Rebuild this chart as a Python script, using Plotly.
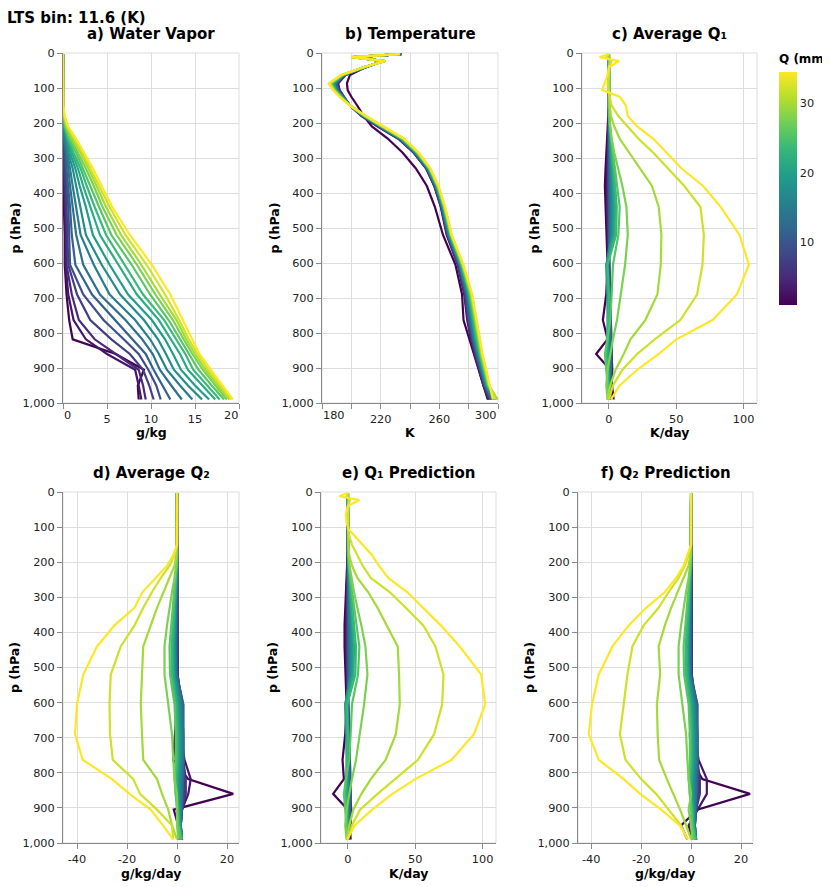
import plotly.graph_objects as go
from plotly.colors import sample_colorscale

# precipitable water bins (mm), one line per bin
Q_MM = [1.0, 3.1, 5.1, 7.2, 9.2, 11.3, 13.3, 15.4, 17.4, 19.5, 21.5, 23.6, 25.6, 27.7, 29.8, 32.0, 34.5]

# pressure levels (hPa)
P_HPA = [3, 12, 23, 40, 63, 87, 106, 125, 150, 180, 210, 245, 285, 330, 380, 440, 520, 605, 690, 763, 818, 860, 905, 950, 990]

# each row is one pressure level, each column one Q bin
VAPOR = [
    [0, 0, 0, 0, 0, 0, 0, 0, 0, 0, 0, 0, 0, 0, 0, 0, 0],
    [0, 0, 0, 0, 0, 0, 0, 0, 0, 0, 0, 0, 0, 0, 0, 0, 0],
    [0, 0, 0, 0, 0, 0, 0, 0, 0, 0, 0, 0, 0, 0, 0, 0, 0],
    [0, 0, 0, 0, 0, 0, 0, 0, 0, 0, 0, 0, 0, 0, 0, 0, 0],
    [0, 0, 0, 0, 0, 0, 0, 0, 0, 0, 0, 0, 0, 0, 0, 0, 0],
    [0, 0, 0, 0, 0, 0, 0, 0, 0, 0, 0, 0, 0, 0, 0, 0, 0],
    [0, 0, 0, 0, 0, 0, 0, 0, 0, 0, 0, 0, 0, 0, 0, 0, 0],
    [0, 0, 0, 0, 0, 0, 0, 0, 0, 0, 0, 0, 0, 0, 0, 0, 0],
    [0, 0, 0, 0, 0, 0, 0, 0, 0, 0, 0, 0, 0, 0, 0, 0.03, 0.05],
    [0, 0, 0, 0, 0, 0, 0, 0, 0, 0, 0, 0.05, 0.05, 0.1, 0.1, 0.15, 0.2],
    [0, 0, 0, 0, 0, 0, 0.05, 0.05, 0.1, 0.1, 0.15, 0.2, 0.25, 0.3, 0.4, 0.5, 0.6],
    [0, 0, 0, 0.05, 0.1, 0.1, 0.15, 0.2, 0.3, 0.4, 0.5, 0.6, 0.7, 0.9, 1.1, 1.3, 1.5],
    [0, 0.05, 0.1, 0.1, 0.2, 0.3, 0.4, 0.5, 0.6, 0.8, 1.0, 1.2, 1.5, 1.7, 2.0, 2.2, 2.4],
    [0.05, 0.1, 0.1, 0.2, 0.3, 0.4, 0.6, 0.8, 1.1, 1.4, 1.7, 2.0, 2.3, 2.6, 2.9, 3.1, 3.4],
    [0.1, 0.1, 0.2, 0.3, 0.4, 0.6, 0.8, 1.1, 1.5, 1.9, 2.3, 2.7, 3.1, 3.5, 3.8, 4.1, 4.4],
    [0.1, 0.2, 0.3, 0.4, 0.6, 0.8, 1.1, 1.5, 2.0, 2.6, 3.1, 3.6, 4.1, 4.5, 4.9, 5.3, 5.6],
    [0.2, 0.3, 0.4, 0.5, 0.7, 1.0, 1.5, 2.0, 2.6, 3.4, 4.2, 4.9, 5.5, 6.1, 6.6, 7.1, 7.6],
    [0.2, 0.3, 0.4, 0.6, 0.8, 1.4, 2.3, 3.5, 4.4, 5.3, 6.3, 7.0, 7.8, 8.4, 8.9, 9.5, 10.1],
    [0.4, 0.6, 1.0, 1.6, 2.3, 3.3, 4.2, 5.3, 6.5, 7.4, 8.4, 9.1, 9.9, 10.5, 11.0, 11.6, 12.2],
    [0.7, 1.2, 1.8, 3.1, 4.6, 5.9, 7.1, 8.2, 9.2, 10.1, 10.9, 11.5, 12.0, 12.5, 12.9, 13.2, 13.6],
    [1.1, 2.6, 3.6, 5.5, 6.9, 7.9, 9.0, 9.9, 10.8, 11.6, 12.3, 12.9, 13.3, 13.7, 14.0, 14.3, 14.6],
    [6.0, 5.0, 6.0, 7.6, 8.6, 9.4, 10.2, 10.9, 11.7, 12.5, 13.3, 13.9, 14.3, 14.7, 15.0, 15.3, 15.5],
    [9.2, 8.2, 8.6, 9.1, 9.7, 10.3, 11.0, 11.8, 12.6, 13.4, 14.2, 14.8, 15.4, 15.9, 16.2, 16.5, 16.8],
    [8.5, 8.6, 9.1, 9.8, 10.6, 11.3, 12.3, 13.3, 14.2, 15.0, 15.8, 16.4, 16.9, 17.3, 17.6, 17.9, 18.1],
    [8.6, 8.9, 9.4, 10.3, 11.1, 12.2, 13.5, 14.7, 15.8, 16.6, 17.3, 17.8, 18.3, 18.6, 18.9, 19.1, 19.3],
]

TEMP = [
    [234, 234, 234, 234, 234, 234, 234, 234, 234, 233, 233, 233, 233, 233, 233, 233, 233],
    [203, 202, 202, 202, 202, 202, 201, 201, 201, 201, 201, 201, 200, 200, 200, 200, 200],
    [221, 222, 222, 222, 222, 222, 222, 222, 222, 223, 223, 223, 223, 223, 223, 223, 223],
    [210, 210, 210, 210, 210, 210, 210, 210, 210, 209, 209, 209, 209, 209, 209, 209, 209],
    [199, 196, 195.8, 195.6, 195.4, 195.2, 195, 194.8, 194.6, 194.4, 194.2, 194, 193.8, 193.6, 193.4, 193.2, 193],
    [197, 191, 190.6, 190.1, 189.7, 189.3, 188.8, 188.4, 188, 187.5, 187.1, 186.7, 186.2, 185.8, 185.4, 184.9, 184.5],
    [197.5, 192, 191.7, 191.4, 191.1, 190.8, 190.5, 190.2, 189.9, 189.6, 189.3, 189, 188.7, 188.4, 188.1, 187.8, 187.5],
    [200, 195, 194.8, 194.6, 194.4, 194.2, 194, 193.8, 193.6, 193.4, 193.2, 193, 192.8, 192.6, 192.4, 192.2, 192],
    [204, 199, 199, 199, 199, 199, 199, 199, 199, 199, 199, 199, 199, 199, 199, 199, 199],
    [208.5, 207, 207.2, 207.4, 207.6, 207.8, 208, 208.2, 208.4, 208.6, 208.8, 209, 209.2, 209.4, 209.6, 209.8, 210],
    [214, 218, 218.3, 218.5, 218.8, 219.1, 219.3, 219.6, 219.9, 220.1, 220.4, 220.7, 220.9, 221.2, 221.5, 221.7, 222],
    [225, 232, 232.3, 232.5, 232.8, 233.1, 233.3, 233.6, 233.9, 234.1, 234.4, 234.7, 234.9, 235.2, 235.5, 235.7, 236],
    [235, 242.5, 242.7, 243, 243.2, 243.4, 243.7, 243.9, 244.1, 244.4, 244.6, 244.8, 245.1, 245.3, 245.5, 245.8, 246],
    [244, 251, 251.2, 251.4, 251.6, 251.8, 252, 252.2, 252.4, 252.6, 252.8, 253, 253.2, 253.4, 253.6, 253.8, 254],
    [251.5, 256.5, 256.7, 256.9, 257.1, 257.3, 257.5, 257.7, 257.9, 258.1, 258.3, 258.5, 258.7, 258.9, 259.1, 259.3, 259.5],
    [257, 261, 261.2, 261.4, 261.6, 261.8, 262, 262.2, 262.4, 262.6, 262.8, 263, 263.2, 263.4, 263.6, 263.8, 264],
    [262.5, 265, 265.3, 265.5, 265.8, 266, 266.3, 266.5, 266.8, 267, 267.3, 267.5, 267.8, 268, 268.2, 268.3, 268.5],
    [271, 272.5, 272.8, 273, 273.3, 273.6, 273.8, 274.1, 274.4, 274.6, 274.9, 275.2, 275.4, 275.7, 276, 276.2, 276.5],
    [275.5, 277, 277.4, 277.7, 278.1, 278.5, 278.8, 279.2, 279.6, 279.9, 280.3, 280.7, 281, 281.4, 281.8, 282.1, 282.5],
    [276.5, 279, 279.4, 279.9, 280.3, 280.7, 281.2, 281.6, 282, 282.5, 282.9, 283.3, 283.8, 284.2, 284.6, 285.1, 285.5],
    [280.5, 281.5, 281.9, 282.3, 282.7, 283.1, 283.5, 283.9, 284.3, 284.7, 285.1, 285.5, 285.9, 286.3, 286.7, 287.1, 287.5],
    [283.5, 284, 284.4, 284.7, 285.1, 285.5, 285.8, 286.2, 286.6, 286.9, 287.3, 287.7, 288, 288.4, 288.8, 289.1, 289.5],
    [286.5, 287, 287.3, 287.7, 288, 288.3, 288.7, 289, 289.3, 289.7, 290, 290.3, 290.7, 291, 291.3, 291.7, 292],
    [290, 290, 290.3, 290.6, 290.9, 291.2, 291.5, 291.8, 292.1, 292.4, 292.7, 293, 293.3, 293.6, 293.9, 294.2, 294.5],
    [293, 293.5, 294, 294.5, 295, 295.5, 296, 296.5, 297, 297.5, 298, 298.5, 299, 299.5, 299.5, 298, 296.5],
]

Q1_AVG = [
    [0, 0, 0, 0, 0, 0, 0, 0, 0, 0, 0, 0, 0, 0, 0, 0, 0],
    [0, 0, 0, 0, 0, 0, 0, 0, 0, 0, 0, 0, 0, 0, -1, -2, -7],
    [0.5, 0.5, 0.5, 0.5, 0.5, 0.5, 0.5, 0.5, 0.5, 0.5, 0.5, 0.5, 0.5, 0.5, 1, 2, 7.6],
    [0, 0, 0, 0, 0, 0, 0, 0, 0, 0, 0, 0, 0, 0, 0, 0, 0],
    [0, 0, 0, 0, 0, 0, 0, 0, 0, 0, 0, 0, 0, 0, 0, 0, -1],
    [0, 0, 0, 0, 0, 0, 0, 0, 0, 0, 0, 0, 0, 0, 0, -1, -3],
    [0, 0, 0, 0, 0, 0, 0, 0, 0, 0, 0, 0, 0, 0, 0, -0.5, -5],
    [0, 0, 0, 0, 0, 0, 0, 0, 0, 0, 0, 0, 0, 0, 0, 0.5, 8],
    [0, 0, 0, 0, 0, 0, 0, 0, 0, 0, 0, 0, 0, 0, 0.5, 2, 12.6],
    [-0.5, -0.3, -0.2, 0, 0, 0, 0, 0, 0, 0, 0, 0, 0.3, 0.5, 1.5, 7, 14],
    [-1, -0.6, -0.4, -0.2, 0, 0, 0.2, 0.3, 0.4, 0.5, 0.6, 0.7, 0.8, 1, 4, 14, 21],
    [-1.5, -1, -0.6, -0.4, 0, 0.2, 0.4, 0.6, 0.8, 1, 1.2, 1.4, 1.6, 2, 8, 22, 33],
    [-2, -1.3, -0.8, -0.5, 0, 0.3, 0.6, 0.9, 1.3, 1.7, 2.1, 2.5, 3, 4, 15, 33, 43],
    [-2.5, -1.6, -1, -0.5, 0, 0.4, 0.8, 1.3, 1.8, 2.4, 3, 3.7, 4.5, 7, 23, 44, 54],
    [-3, -1.8, -1, -0.5, 0, 0.5, 1, 1.6, 2.3, 3, 3.9, 4.9, 6, 10, 32, 56, 70],
    [-2.5, -1.5, -1, -0.5, 0, 0.5, 1.1, 1.8, 2.6, 3.5, 4.6, 5.8, 8, 13, 37, 68, 83],
    [-1.5, -1, -0.5, 0, 0, 0.5, 1, 1.6, 2.3, 3.1, 4.1, 5.3, 7, 14, 39, 70.5, 97],
    [-1, -0.5, 0, 0.5, 0, -0.5, -1, -1.5, -1.8, -2, -1.5, -1, 3, 12, 38.5, 69.5, 104],
    [-2, 0, 0.5, 1, 1, 0.5, 0, -0.5, -1, -1, -0.5, 0, 2, 9, 36, 65.5, 95],
    [-4.5, 0.5, 1, 1.5, 1.5, 1, 0.5, 0, -0.5, -1, -1, -0.5, 1, 6, 27, 53, 77],
    [-1, 1, 1.5, 2, 2, 1.5, 1, 0.5, 0, -0.5, -1, -1.5, -1, 3, 16, 34, 50],
    [-9.5, 2, 2, 2, 2, 1.5, 1, 0.5, 0, -0.5, -1, -2, -3, 1, 11, 21, 37],
    [1, 2.5, 2, 1.5, 1.5, 1, 1, 0.5, 0, 0, -0.5, -1, -2, -1, 5, 10, 21],
    [2.5, 2, 1.5, 1, 1, 1, 0.5, 0.5, 0, 0, 0, -0.5, -1, -2, 1, 3, 8],
    [3.5, 1, 0.5, 0, 0, 0, 0, 0, 0, 0, 0, 0, 0, -1, -1.5, 0, 1.5],
]

Q2_AVG = [
    [0, 0, 0, 0, 0, 0, 0, 0, 0, 0, 0, 0, 0, 0, 0, 0, 0],
    [0, 0, 0, 0, 0, 0, 0, 0, 0, 0, 0, 0, 0, 0, 0, 0, 0],
    [0, 0, 0, 0, 0, 0, 0, 0, 0, 0, 0, 0, 0, 0, 0, 0, 0],
    [0, 0, 0, 0, 0, 0, 0, 0, 0, 0, 0, 0, 0, 0, 0, 0, 0],
    [0, 0, 0, 0, 0, 0, 0, 0, 0, 0, 0, 0, 0, 0, 0, 0, 0],
    [0, 0, 0, 0, 0, 0, 0, 0, 0, 0, 0, 0, 0, 0, 0, 0, 0],
    [0, 0, 0, 0, 0, 0, 0, 0, 0, 0, 0, 0, 0, 0, 0, 0, 0],
    [0, 0, 0, 0, 0, 0, 0, 0, 0, 0, 0, 0, 0, 0, 0, 0, 0],
    [0, 0, 0, 0, 0, 0, 0, 0, 0, 0, 0, 0, 0, 0, 0, 0, 0],
    [0, 0, 0, 0, 0, 0, 0, 0, 0, 0, 0, 0, 0, 0, -0.3, -1, -1.5],
    [0, 0, 0, 0, 0, 0, 0, 0, 0, 0, 0, 0, -0.2, -0.4, -1, -3, -4],
    [0, 0, 0, 0, 0, 0, 0, -0.1, -0.2, -0.3, -0.4, -0.5, -0.7, -1, -3, -6.5, -8.5],
    [0, 0, 0, 0, 0, -0.1, -0.2, -0.3, -0.4, -0.5, -0.7, -0.9, -1.2, -2, -5.5, -10, -13.8],
    [0, 0, 0, 0, -0.1, -0.2, -0.3, -0.4, -0.6, -0.8, -1, -1.3, -1.7, -3, -8, -13.5, -17],
    [0, 0, 0, -0.1, -0.2, -0.3, -0.4, -0.6, -0.8, -1, -1.3, -1.7, -2.3, -4, -10.5, -17, -25],
    [0, 0, 0, -0.1, -0.2, -0.4, -0.5, -0.7, -1, -1.3, -1.7, -2.2, -3, -5, -13.5, -22.5, -32],
    [0.2, 0.3, 0.3, 0.2, 0, -0.2, -0.4, -0.6, -0.9, -1.2, -1.6, -2.1, -2.8, -5, -14, -26.5, -37.5],
    [0, 1, 1.5, 2, 2.5, 2.5, 2, 1.5, 1, 0.5, 0, -0.5, -1, -3.5, -14.5, -27, -40],
    [-0.8, 1.5, 2, 2.5, 2.5, 2.5, 2.5, 2, 1.5, 1, 0.5, 0, -0.5, -2, -14, -26.8, -40.8],
    [-1.5, 3, 2.5, 2.5, 2.5, 2.5, 2.5, 2, 1.5, 1, 0.5, 0, -0.5, -1.5, -13.5, -25.7, -37.7],
    [4.5, 5.5, 3.5, 3, 2.5, 2.5, 2, 1.5, 1, 0.5, 0, -0.5, -1, -1, -8, -17.5, -26],
    [22.5, 4.5, 3.5, 3, 2.5, 2, 2, 1.5, 1, 0.5, 0, -0.5, -0.5, 0, -6, -14.8, -19],
    [-1.3, 2, 2, 2, 2, 2, 1.5, 1.5, 1, 1, 0.5, 0.5, 0, 0, -3.5, -8, -10.5],
    [0.5, 1, 1.5, 1.5, 1.5, 1.5, 1.5, 1.5, 1, 1, 1, 0.5, 0.5, 0, -2, -2, -5.6],
    [0.5, 1, 1.5, 2, 2, 2, 2, 2, 2, 2, 2, 1.5, 1.5, 0.5, 0, -1.5, -1.5],
]

Q1_PRED = [
    [0, 0, 0, 0, 0, 0, 0, 0, 0, 0, 0, 0, 0, 0, 0, 0, 0],
    [0, 0, 0, 0, 0, 0, 0, 0, 0, 0, 0, 0, 0, 0, -0.5, -1, -6.4],
    [0.3, 0.3, 0.3, 0.3, 0.3, 0.3, 0.3, 0.3, 0.3, 0.3, 0.3, 0.3, 0.3, 0.3, 1, 1.5, 8.4],
    [0, 0, 0, 0, 0, 0, 0, 0, 0, 0, 0, 0, 0, 0, 0, 0, 0],
    [0, 0, 0, 0, 0, 0, 0, 0, 0, 0, 0, 0, 0, 0, 0, 0, -1.5],
    [0, 0, 0, 0, 0, 0, 0, 0, 0, 0, 0, 0, 0, 0, 0, 0, -1],
    [0, 0, 0, 0, 0, 0, 0, 0, 0, 0, 0, 0, 0, 0, 0, 0, 0.5],
    [0, 0, 0, 0, 0, 0, 0, 0, 0, 0, 0, 0, 0, 0, 0, 1, 5],
    [0, 0, 0, 0, 0, 0, 0, 0, 0, 0, 0, 0, 0, 0, 0.3, 3, 11],
    [-0.3, -0.2, -0.1, 0, 0, 0, 0, 0, 0, 0, 0, 0.1, 0.3, 0.5, 1, 7, 18],
    [-0.6, -0.4, -0.2, 0, 0, 0.1, 0.2, 0.3, 0.4, 0.5, 0.6, 0.7, 0.9, 1.2, 3, 11, 23],
    [-1, -0.7, -0.4, -0.2, 0, 0.2, 0.4, 0.6, 0.8, 1, 1.2, 1.5, 1.8, 2.5, 7, 17, 30],
    [-1.5, -1, -0.6, -0.3, 0, 0.3, 0.6, 0.9, 1.3, 1.7, 2.1, 2.6, 3.2, 4.5, 15, 31, 44],
    [-2, -1.2, -0.8, -0.4, 0, 0.4, 0.8, 1.3, 1.8, 2.4, 3, 3.8, 4.7, 7, 22, 43, 56],
    [-2.5, -1.5, -0.9, -0.4, 0, 0.5, 1, 1.6, 2.3, 3, 3.9, 5, 6.3, 10, 29, 56, 69],
    [-2.5, -1.5, -0.9, -0.4, 0, 0.5, 1.1, 1.8, 2.6, 3.5, 4.6, 6, 8.5, 13, 37, 65, 83],
    [-2, -1, -0.5, 0, 0, 0.5, 1, 1.6, 2.3, 3.1, 4.1, 5.5, 7.5, 14.5, 38, 71, 99],
    [-1, -0.5, 0, 0.3, 0, -0.5, -1, -1.5, -2, -2, -1.5, -0.5, 3, 12, 38.5, 70, 102],
    [-2, 0, 0.5, 1, 1, 0.5, 0, -0.5, -1, -1, -0.5, 0, 2, 9, 35.6, 64, 93.6],
    [-4, 0.5, 1, 1.5, 1.5, 1, 0.5, 0, -0.5, -1, -1, -0.5, 1, 6, 28, 52, 77],
    [-3, 1, 1.5, 2, 2, 1.5, 1, 0.5, 0, -0.5, -1, -1.5, -1.5, 3, 17, 35, 50],
    [-11, 1.5, 2, 2, 2, 1.5, 1, 0.5, 0, -0.5, -1, -2, -3, 1, 10, 22, 33],
    [0, 2.5, 2, 1.5, 1.5, 1, 1, 0.5, 0, 0, -0.5, -1, -2, -1, 4, 9, 18],
    [1.5, 2, 1.5, 1, 1, 1, 0.5, 0.5, 0, 0, 0, -0.5, -1, -2, 1, 3, 5],
    [2, 1, 0.5, 0, 0, 0, 0, 0, 0, 0, 0, 0, -0.5, -1, -1, 0, -0.5],
]

Q2_PRED = [
    [0, 0, 0, 0, 0, 0, 0, 0, 0, 0, 0, 0, 0, 0, 0, 0, 0],
    [0, 0, 0, 0, 0, 0, 0, 0, 0, 0, 0, 0, 0, 0, 0, 0, 0],
    [0, 0, 0, 0, 0, 0, 0, 0, 0, 0, 0, 0, 0, 0, 0, 0, 0],
    [0, 0, 0, 0, 0, 0, 0, 0, 0, 0, 0, 0, 0, 0, 0, 0, 0],
    [0, 0, 0, 0, 0, 0, 0, 0, 0, 0, 0, 0, 0, 0, 0, 0, 0],
    [0, 0, 0, 0, 0, 0, 0, 0, 0, 0, 0, 0, 0, 0, 0, 0, 0],
    [0, 0, 0, 0, 0, 0, 0, 0, 0, 0, 0, 0, 0, 0, 0, 0, 0],
    [0, 0, 0, 0, 0, 0, 0, 0, 0, 0, 0, 0, 0, 0, 0, 0, 0],
    [0, 0, 0, 0, 0, 0, 0, 0, 0, 0, 0, 0, 0, 0, 0, 0, 0],
    [0, 0, 0, 0, 0, 0, 0, 0, 0, 0, 0, 0, 0, 0, -0.3, -1, -1.5],
    [0, 0, 0, 0, 0, 0, 0, 0, 0, 0, 0, 0, -0.2, -0.4, -1, -2.5, -3],
    [0, 0, 0, 0, 0, 0, 0, -0.1, -0.2, -0.3, -0.4, -0.5, -0.7, -1, -3, -5, -6],
    [0, 0, 0, 0, 0, -0.1, -0.2, -0.3, -0.4, -0.5, -0.7, -0.9, -1.2, -2, -5.5, -9, -10.5],
    [0, 0, 0, 0, -0.1, -0.2, -0.3, -0.4, -0.6, -0.8, -1, -1.3, -1.7, -3, -8, -13, -18],
    [0, 0, 0, -0.1, -0.2, -0.3, -0.4, -0.6, -0.8, -1, -1.3, -1.7, -2.3, -4, -10.5, -19, -25],
    [0, 0, 0, -0.1, -0.2, -0.4, -0.5, -0.7, -1, -1.3, -1.7, -2.2, -3, -5, -13, -23.5, -31.5],
    [0.2, 0.3, 0.3, 0.2, 0, -0.2, -0.4, -0.6, -0.9, -1.2, -1.6, -2.1, -2.8, -5, -12.4, -25.5, -37],
    [0.5, 1, 1.5, 2, 2.5, 2.5, 2, 1.5, 1, 0.5, 0, -0.5, -1, -3.5, -13.7, -27, -39.7],
    [-0.5, 1.5, 2, 2.5, 2.5, 2.5, 2.5, 2, 1.5, 1, 0.5, 0, -0.5, -2, -13.4, -28.5, -41],
    [0, 3, 2.5, 2.5, 2.5, 2.5, 2.5, 2, 1.5, 1, 0.5, 0, -0.5, -1.5, -12.8, -26.3, -37],
    [4.5, 6.3, 3.5, 3, 2.5, 2.5, 2, 1.5, 1, 0.5, 0, -0.5, -1, -1, -9.7, -20, -27],
    [23.6, 6.3, 3.5, 3, 2.5, 2, 2, 1.5, 1, 0.5, 0, -0.5, -0.5, 0, -7, -14, -20.4],
    [2.5, 2.5, 2, 2, 2, 2, 1.5, 1.5, 1, 1, 0.5, 0.5, 0, -1, -4.4, -9, -12],
    [-4, -1, 1.5, 1.5, 1.5, 1.5, 1.5, 1.5, 1, 1, 1, 0.5, 0.5, 0, -2, -4, -4.5],
    [-1.5, 0.5, 1.5, 2, 2, 2, 2, 2, 2, 2, 2, 1.5, 1.5, 0.5, 0, -1.5, -1.2],
]

# the page body keeps its default 8px margin, so the figure is drawn from (8, 8)
OFF = 8
W, H = 830 - OFF, 887 - OFF
FONT = "DejaVu Sans"
TXT = "#222"


def fx(px):
    return (px - OFF) / W


def fy(py):
    return 1 - (py - OFF) / H


# title, table, x title, plot box (window px), x range, tick values, tick labels, flush end labels
PANELS = [
    ("a) Water Vapor", VAPOR, "g/kg", (63, 239, 53, 403), [0, 20],
     [0, 5, 10, 15, 20], ["", "5", "10", "15", ""], ("0", "20")),
    ("b) Temperature", TEMP, "K", (322, 498, 53, 403), [180, 300],
     [180, 200, 220, 240, 260, 280, 300], ["", "", "220", "", "260", "", ""], ("180", "300")),
    ("c) Average Q₁", Q1_AVG, "K/day", (582, 757, 53, 403), [-20, 110],
     [0, 50, 100], ["0", "50", "100"], None),
    ("d) Average Q₂", Q2_AVG, "g/kg/day", (63, 239, 492, 843), [-45.6, 24.8],
     [-40, -20, 0, 20], ["-40", "-20", "0", "20"], None),
    ("e) Q₁ Prediction", Q1_PRED, "K/day", (321, 496, 492, 843), [-20, 110],
     [0, 50, 100], ["0", "50", "100"], None),
    ("f) Q₂ Prediction", Q2_PRED, "g/kg/day", (578, 753, 492, 843), [-45.3, 24.8],
     [-40, -20, 0, 20], ["-40", "-20", "0", "20"], None),
]

qmin, qmax = min(Q_MM), max(Q_MM)
colors = sample_colorscale("Viridis", [(q - qmin) / (qmax - qmin) for q in Q_MM])

fig = go.Figure()
annotations = []
shapes = []
layout = {}


def note(text, px, py, size, xanchor="center", yanchor="middle", color="#000", angle=0):
    annotations.append(dict(text=text, x=fx(px), y=fy(py), xref="paper", yref="paper",
                            xanchor=xanchor, yanchor=yanchor, showarrow=False, borderpad=0,
                            textangle=angle, font=dict(family=FONT, size=size, color=color)))


for k, (title, table, xtitle, box, xr, tv, tt, flush) in enumerate(PANELS, start=1):
    x0, x1, y0, y1 = box
    sfx = "" if k == 1 else str(k)
    for i in range(len(Q_MM)):
        fig.add_trace(go.Scatter(
            x=[row[i] for row in table], y=P_HPA, mode="lines",
            line=dict(color=colors[i], width=2.2),
            xaxis="x" + sfx, yaxis="y" + sfx, showlegend=False,
            name="Q=%s mm" % Q_MM[i]))

    layout["xaxis" + sfx] = dict(
        domain=[fx(x0), fx(x1)], range=xr, anchor="y" + sfx, automargin=False,
        tickvals=tv, ticktext=tt, ticks="outside", ticklen=5, tickcolor="#888",
        showline=True, linecolor="#888", linewidth=1,
        showgrid=True, gridcolor="#ddd", gridwidth=1, zeroline=False,
        tickfont=dict(family=FONT, size=11.3, color=TXT))
    layout["yaxis" + sfx] = dict(
        domain=[fy(y1), fy(y0)], range=[1000, 0], anchor="x" + sfx, automargin=False,
        tickvals=[0, 100, 200, 300, 400, 500, 600, 700, 800, 900, 1000],
        tickformat=",", ticks="outside", ticklen=5, tickcolor="#888",
        showline=True, linecolor="#888", linewidth=1,
        showgrid=True, gridcolor="#ddd", gridwidth=1, zeroline=False,
        tickfont=dict(family=FONT, size=11.3, color=TXT))

    # light frame round each view
    shapes.append(dict(type="rect", xref="x%s domain" % sfx, yref="y%s domain" % sfx,
                       x0=0, x1=1, y0=0, y1=1, line=dict(color="#ddd", width=1),
                       layer="below"))

    note("<b>%s</b>" % title, (x0 + x1) / 2, y0 - 19, 15)
    note("<b>%s</b>" % xtitle, (x0 + x1) / 2, y1 + 30, 12.5)
    note("<b>p (hPa)</b>", x0 - 48.5, (y0 + y1) / 2, 12.5, angle=-90)
    if flush:
        note(flush[0], x0, y1 + 12, 11.3, xanchor="left", color=TXT)
        note(flush[1], x1, y1 + 12, 11.3, xanchor="right", color=TXT)

note("<b>LTS bin: 11.6 (K)</b>", 6, 8, 15, xanchor="left", yanchor="top")
note("<b>Q (mm)</b>", 778, 59, 12, xanchor="left")

# colour scale legend
fig.add_trace(go.Scatter(
    x=[None], y=[None], mode="markers", showlegend=False, hoverinfo="skip",
    xaxis="x3", yaxis="y3",
    marker=dict(color=[qmin], cmin=qmin, cmax=qmax, colorscale="Viridis", showscale=True,
                colorbar=dict(x=fx(779), xanchor="left", xpad=0, ypad=0,
                              y=fy(72), yanchor="top", lenmode="fraction",
                              len=(305 - 72) / H, thickness=18, outlinewidth=0,
                              tickvals=[10, 20, 30], ticks="",
                              tickfont=dict(family=FONT, size=11.3, color=TXT)))))

fig.update_layout(width=W, height=H, autosize=False,
                  margin=dict(l=0, r=0, t=0, b=0, autoexpand=False),
                  paper_bgcolor="white", plot_bgcolor="white",
                  annotations=annotations, shapes=shapes, **layout)

fig.write_html("out.html")
